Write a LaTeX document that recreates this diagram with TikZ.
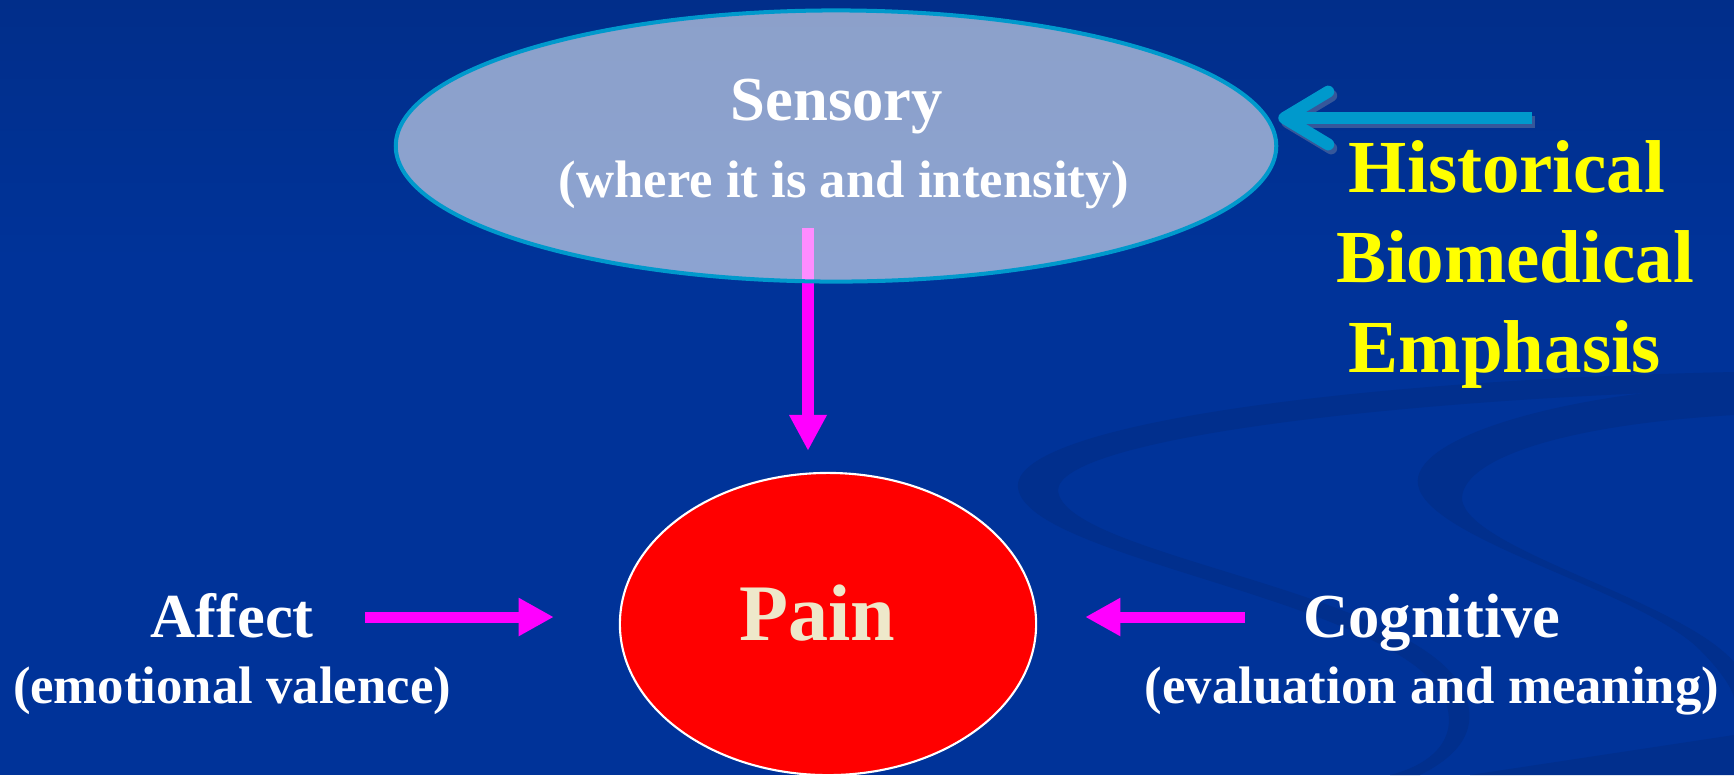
\documentclass[tikz,border=0pt]{standalone}
\usepackage{fontspec}
\setmainfont{Liberation Serif}
\usetikzlibrary{arrows.meta,shapes.geometric,calc}
\definecolor{bgblue}{HTML}{003399}
\definecolor{bgtop}{HTML}{012E8A}
\definecolor{swirl}{HTML}{012F8D}
\definecolor{sensborder}{HTML}{0099CC}
\definecolor{histblue}{HTML}{0099CC}
\definecolor{histshadow}{HTML}{36579A}
\definecolor{painred}{HTML}{FF0000}
\definecolor{paintext}{HTML}{EEE8CA}
\definecolor{magentaA}{HTML}{FF00FF}
\definecolor{histyellow}{HTML}{FFFF00}
\tikzset{
  sensell/.style={ellipse, minimum width=8.8cm, minimum height=2.71cm, inner sep=0pt,
    fill=white, fill opacity=0.55, draw=sensborder, draw opacity=1, line width=1.14pt},
  painell/.style={ellipse, minimum width=4.16cm, minimum height=3.02cm, inner sep=0pt,
    fill=painred, draw=white, line width=0.6pt},
  maintext/.style={anchor=base, inner sep=0pt, text=white, font=\bfseries\fontsize{17.8}{21}\selectfont},
  subtext/.style={anchor=base, inner sep=0pt, text=white, font=\bfseries\fontsize{15}{18}\selectfont},
  histtext/.style={anchor=base, inner sep=0pt, text=histyellow, font=\bfseries\fontsize{21.3}{25.6}\selectfont},
  paintxt/.style={anchor=base, inner sep=0pt, text=paintext, font=\bfseries\fontsize{22.8}{27}\selectfont},
  vertarrow/.style={draw=magentaA, line width=3.41pt, -{Triangle[width=10pt,length=10.2pt]}, magentaA},
  sidearrow/.style={draw=magentaA, line width=3.13pt, -{Triangle[width=10.2pt,length=10pt]}, magentaA},
  histarrow/.style={line width=3.41pt, -{Straight Barb[length=12.5pt,width=15pt,round]}},
  swirlfill/.style={fill=swirl}
}
\begin{document}
\begin{tikzpicture}[x=0.01cm,y=-0.01cm]
  % background
  \fill[bgblue] (0,0) rectangle (1734,775);
  \shade[top color=bgtop, bottom color=bgblue] (0,0) rectangle (1734,260);
  \useasboundingbox (0,0) rectangle (1734,775);
  % faint swirls
  \fill[swirlfill] (1734,372) .. controls (1350,380) and (1010,425) .. (1018,488)
    .. controls (1028,560) and (1400,600) .. (1445,700)
    .. controls (1460,740) and (1430,765) .. (1390,775)
    -- (1420,775) .. controls (1470,750) and (1478,720) .. (1462,688)
    .. controls (1410,590) and (1062,555) .. (1058,490)
    .. controls (1060,440) and (1380,400) .. (1734,390) -- cycle;
  \fill[swirlfill] (1734,385) .. controls (1550,395) and (1410,440) .. (1418,485)
    .. controls (1428,540) and (1640,590) .. (1700,650)
    .. controls (1720,670) and (1734,690) .. (1734,700)
    -- (1734,662) .. controls (1680,600) and (1470,550) .. (1462,500)
    .. controls (1460,460) and (1560,425) .. (1734,415) -- cycle;
  \fill[swirlfill] (1470,775) -- (1734,735) -- (1734,775) -- cycle;
  % nodes
  \node[painell] (pain) at (828,624) {};
  \coordinate (sa) at (808,228);
  \draw[vertarrow, shorten >=0.21cm] (sa) -- (sa |- pain.north);
  \node[sensell] (sens) at (836,146) {};
  % texts
  \node[maintext] (senst) at (837,120) {Sensory};
  \node[subtext] (sensub) at (844,197) {(where it is and intensity)};
  \node[paintxt] (paint) at (817,640) {Pain};
  \node[maintext] (aff) at (232,637) {Affect};
  \node[subtext] (affsub) at (232,703) {(emotional valence)};
  \node[maintext] (cog) at (1432,637) {Cognitive};
  \node[subtext] (cogsub) at (1432,703) {(evaluation and meaning)};
  \node[histtext] (hist1) at (1507,192) {Historical};
  \node[histtext] (hist2) at (1515,282) {Biomedical};
  \node[histtext] (hist3) at (1505,372) {Emphasis};
  % side arrows
  \coordinate (a1) at (365,617);
  \draw[sidearrow, shorten >=0.65cm] (a1) -- (a1 -| pain.west);
  \coordinate (c1) at (1245,617);
  \draw[sidearrow, shorten >=0.48cm] (c1) -- (c1 -| pain.east);
  % historical arrow with shadow
  \coordinate (h1) at (1532,118);
  \coordinate (h1s) at (1535,122);
  \draw[histarrow, histshadow] (h1s) -- ($(h1s -| sens.east)+(3,0)$);
  \draw[histarrow, histblue] (h1) -- (h1 -| sens.east);
\end{tikzpicture}
\end{document}
